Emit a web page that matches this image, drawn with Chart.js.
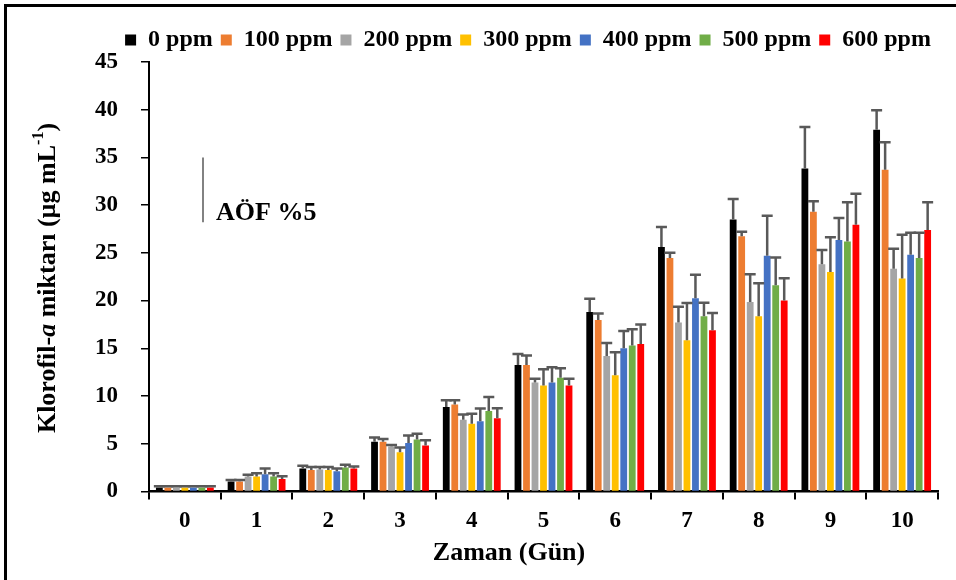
<!DOCTYPE html>
<html>
<head>
<meta charset="utf-8">
<script src="https://cdn.jsdelivr.net/npm/chart.js@4.4.0/dist/chart.umd.min.js"></script>
<style>
  html, body { margin: 0; padding: 0; background: #fff; }
  #wrap { width: 956px; height: 580px; }
</style>
</head>
<body>
<div id="wrap"><canvas id="grafik" width="956" height="580"></canvas></div>
<script>
// Günler (x ekseni)
const gunler = ['0', '1', '2', '3', '4', '5', '6', '7', '8', '9', '10'];
const seriAdlari = ['0 ppm', '100 ppm', '200 ppm', '300 ppm', '400 ppm', '500 ppm', '600 ppm'];
const renkler = ['#000000', '#ED7D31', '#A5A5A5', '#FFC000', '#4472C4', '#70AD47', '#FF0000'];
const yTikleri = [0, 5, 10, 15, 20, 25, 30, 35, 40, 45];

// Ortalama değerler
const ppm0   = [0.4, 1.05, 2.4, 5.2, 8.85, 13.25, 18.8, 25.6, 28.5, 33.85, 37.9];
const ppm100 = [0.4, 1.05, 2.25, 5.2, 9.1, 13.25, 17.95, 24.45, 26.75, 29.3, 33.7];
const ppm200 = [0.4, 1.57, 2.3, 4.7, 7.5, 11.4, 14.2, 17.7, 19.85, 23.8, 23.33];
const ppm300 = [0.4, 1.57, 2.25, 4.1, 7.1, 11.1, 12.17, 15.85, 18.36, 22.98, 22.3];
const ppm400 = [0.4, 1.8, 2.1, 5.07, 7.35, 11.4, 15.0, 20.25, 24.7, 26.34, 24.8];
const ppm500 = [0.4, 1.57, 2.5, 5.45, 8.43, 11.9, 15.3, 18.36, 21.6, 26.2, 24.45];
const ppm600 = [0.4, 1.3, 2.4, 4.8, 7.66, 11.1, 15.45, 16.9, 20.0, 27.95, 27.4];

// Standart hata (yukarı yönlü)
const hata0   = [0.15, 0.15, 0.3, 0.45, 0.7, 1.15, 1.4, 2.1, 2.15, 4.35, 2.05];
const hata100 = [0.15, 0.15, 0.3, 0.3, 0.45, 1.0, 0.7, 0.55, 0.45, 1.1, 2.9];
const hata200 = [0.15, 0.18, 0.25, 0.15, 0.55, 0.4, 1.35, 1.65, 2.9, 1.5, 2.1];
const hata300 = [0.15, 0.33, 0.3, 0.5, 1.05, 1.7, 2.4, 3.9, 3.45, 3.65, 4.6];
const hata400 = [0.15, 0.6, 0.3, 0.8, 1.35, 1.6, 1.8, 2.45, 4.2, 2.3, 2.3];
const hata500 = [0.15, 0.33, 0.3, 0.6, 1.45, 1.0, 1.7, 1.4, 2.9, 4.1, 2.65];
const hata600 = [0.15, 0.3, 0.2, 0.55, 1.05, 0.7, 2.05, 1.8, 2.35, 3.25, 2.9];

// AÖF %5 çizgisi (değer aralığı)
const aofAlt = 28.2;
const aofUst = 35.0;

const degerler = [ppm0, ppm100, ppm200, ppm300, ppm400, ppm500, ppm600];
const hatalar = [hata0, hata100, hata200, hata300, hata400, hata500, hata600];

const FONT = "'Liberation Serif', 'Times New Roman', serif";

const datasets = seriAdlari.map((ad, i) => ({
    label: ad,
    data: degerler[i],
    hata: hatalar[i],
    backgroundColor: renkler[i],
    borderWidth: 0,
    categoryPercentage: 0.83,
    barPercentage: 0.8
}));

// Arka plan ve çerçeve
const arkaPlan = {
    id: 'arkaPlan',
    afterLayout(chart) {
        // lejantı biraz sağa kaydır
        chart.legend.left += 23;
        chart.legend.right += 23;
    },
    beforeDraw(chart) {
        const ctx = chart.ctx;
        ctx.save();
        ctx.fillStyle = '#fff';
        ctx.fillRect(0, 0, chart.width, chart.height);
        ctx.strokeStyle = '#000';
        ctx.lineWidth = 3;
        ctx.beginPath();
        ctx.moveTo(5.5, chart.height);
        ctx.lineTo(5.5, 5.5);
        ctx.lineTo(chart.width, 5.5);
        ctx.stroke();
        ctx.restore();
    }
};

// Hata çubukları
const hataCubuklari = {
    id: 'hataCubuklari',
    afterDatasetsDraw(chart) {
        const ctx = chart.ctx;
        const y = chart.scales.y;
        ctx.save();
        ctx.strokeStyle = '#595959';
        ctx.lineWidth = 2.5;
        chart.data.datasets.forEach((ds, i) => {
            const meta = chart.getDatasetMeta(i);
            meta.data.forEach((bar, j) => {
                const ust = y.getPixelForValue(ds.data[j] + ds.hata[j]);
                const alt = y.getPixelForValue(ds.data[j]);
                ctx.beginPath();
                ctx.moveTo(bar.x, alt);
                ctx.lineTo(bar.x, ust);
                ctx.moveTo(bar.x - 5.5, ust);
                ctx.lineTo(bar.x + 5.5, ust);
                ctx.stroke();
            });
        });
        ctx.restore();
    }
};

// Eksen başlıkları ve AÖF notu
const basliklar = {
    id: 'basliklar',
    afterDraw(chart) {
        const ctx = chart.ctx;
        const y = chart.scales.y;
        ctx.save();
        ctx.fillStyle = '#000';

        // x ekseni başlığı
        ctx.font = 'bold 26px ' + FONT;
        ctx.textAlign = 'center';
        ctx.textBaseline = 'middle';
        ctx.fillText('Zaman (Gün)', 509, 553);

        // y ekseni başlığı (parçalı)
        const parcalar = [
            { t: 'Klorofil-', f: 'bold 26px ' + FONT, dy: 0 },
            { t: 'a', f: 'italic bold 26px ' + FONT, dy: 0 },
            { t: ' miktarı (µg mL', f: 'bold 26px ' + FONT, dy: 0 },
            { t: '-1', f: 'bold 16px ' + FONT, dy: -9 },
            { t: ')', f: 'bold 26px ' + FONT, dy: 0 }
        ];
        let toplam = 0;
        parcalar.forEach(p => { ctx.font = p.f; p.w = ctx.measureText(p.t).width; toplam += p.w; });
        ctx.translate(48, 278);
        ctx.rotate(-Math.PI / 2);
        ctx.textAlign = 'left';
        ctx.textBaseline = 'middle';
        let x = -toplam / 2;
        parcalar.forEach(p => {
            ctx.font = p.f;
            ctx.fillText(p.t, x, p.dy);
            x += p.w;
        });
        ctx.setTransform(1, 0, 0, 1, 0, 0);

        // AÖF %5
        ctx.strokeStyle = '#595959';
        ctx.lineWidth = 1.5;
        ctx.beginPath();
        ctx.moveTo(203, y.getPixelForValue(aofUst));
        ctx.lineTo(203, y.getPixelForValue(aofAlt));
        ctx.stroke();
        ctx.font = 'bold 26px ' + FONT;
        ctx.textAlign = 'left';
        ctx.textBaseline = 'alphabetic';
        ctx.fillText('AÖF %5', 216, 220);
        ctx.restore();
    }
};

new Chart(document.getElementById('grafik').getContext('2d'), {
    type: 'bar',
    data: { labels: gunler, datasets: datasets },
    plugins: [arkaPlan, hataCubuklari, basliklar],
    options: {
        responsive: false,
        animation: false,
        layout: { padding: { left: 72, right: 18, top: 20, bottom: 37 } },
        plugins: {
            legend: {
                position: 'top',
                labels: {
                    boxWidth: 11,
                    boxHeight: 11,
                    padding: 8,
                    color: '#000',
                    font: { family: FONT, size: 24, weight: 'bold' }
                }
            },
            tooltip: { enabled: false }
        },
        scales: {
            x: {
                grid: {
                    display: true,
                    offset: true,
                    drawOnChartArea: false,
                    drawTicks: true,
                    tickLength: 8,
                    color: '#000',
                    lineWidth: 2
                },
                border: { display: true, color: '#000', width: 2.5 },
                ticks: { color: '#000', padding: 8, font: { family: FONT, size: 23, weight: 'bold' } }
            },
            y: {
                min: 0,
                max: 45,
                afterBuildTicks(axis) { axis.ticks = yTikleri.map(v => ({ value: v })); },
                grid: {
                    display: true,
                    drawOnChartArea: false,
                    drawTicks: true,
                    tickLength: 8,
                    color: '#000',
                    lineWidth: 1.5
                },
                border: { display: true, color: '#000', width: 2 },
                ticks: { color: '#000', padding: 23, font: { family: FONT, size: 23, weight: 'bold' } }
            }
        }
    }
});
</script>
</body>
</html>
